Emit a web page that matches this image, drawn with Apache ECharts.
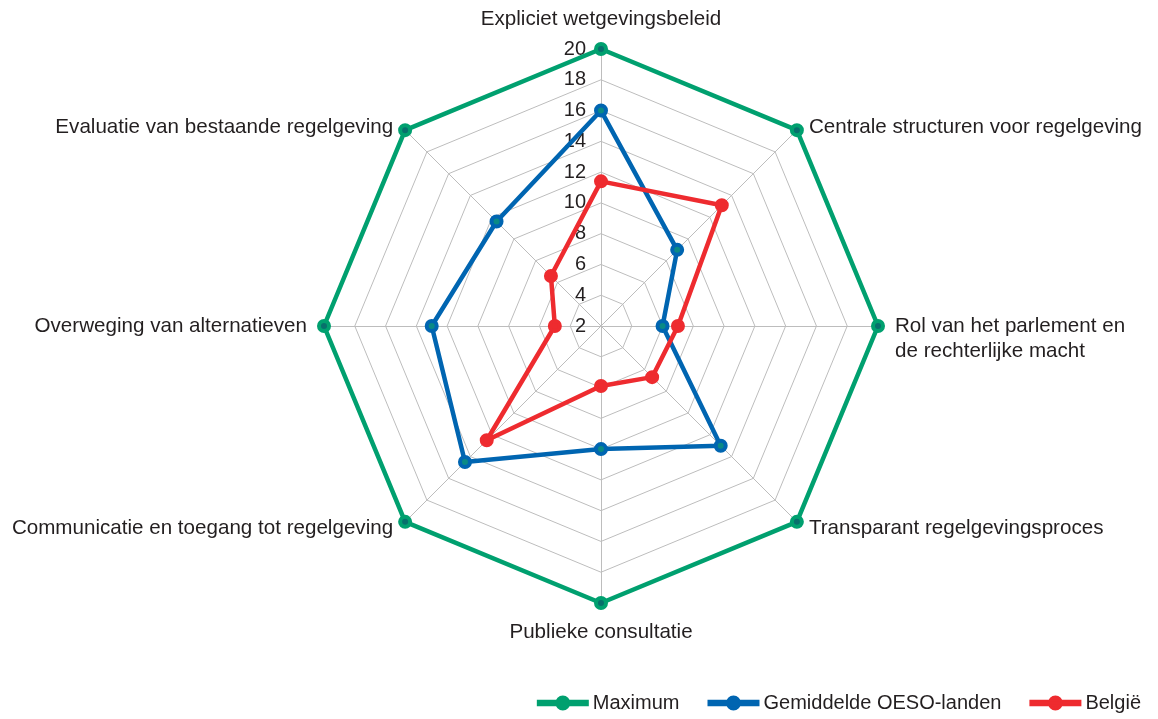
<!DOCTYPE html>
<html>
<head>
<meta charset="utf-8">
<script src="https://cdn.jsdelivr.net/npm/echarts@6/dist/echarts.min.js"></script>
<style>
html,body{margin:0;padding:0;background:#fff;}
#c{width:1158px;height:719px;}
</style>
</head>
<body>
<div id="c"></div>
<script>
// Categories listed in ECharts radar order (start at top, counter-clockwise)
const categories = [
  'Expliciet wetgevingsbeleid',
  'Evaluatie van bestaande regelgeving',
  'Overweging van alternatieven',
  'Communicatie en toegang tot regelgeving',
  'Publieke consultatie',
  'Transparant regelgevingsproces',
  'Rol van het parlement en\nde rechterlijke macht',
  'Centrale structuren voor regelgeving'
];
const seriesNames = ['Maximum', 'Gemiddelde OESO-landen', 'België'];
const maximum = [20, 20, 20, 20, 20, 20, 20, 20];
const oesoAverage = [16, 11.6, 13, 14.5, 10, 13, 6, 9];
const belgie = [11.4, 6.6, 5, 12.5, 5.9, 6.7, 7, 13.1];
const axisMin = 2, axisMax = 20, axisStep = 2;

const colors = ['#00a06f', '#0065b1', '#ee2b2f'];
const markerFill = ['#07706c', '#0a8a86', '#ee2b2f'];
const textColor = '#231f20';
const font = 'Liberation Sans, Arial, sans-serif';
const fs = 20;
const nameFs = 20.6;
const legendIcon = 'path://M0,-2.2 L50,-2.2 L50,2.2 L0,2.2 Z M31.5,0 A6.5,6.5 0 1 1 18.5,0 A6.5,6.5 0 1 1 31.5,0 Z';

const nameBase = { color: textColor, fontSize: nameFs, fontFamily: font, lineHeight: 25 };

const chart = echarts.init(document.getElementById('c'));
const values = [maximum, oesoAverage, belgie];
chart.setOption({
  animation: false,
  textStyle: { fontFamily: font },
  legend: {
    right: 12, bottom: 1,
    itemWidth: 50, itemHeight: 13, itemGap: 28,
    textStyle: { fontSize: fs, color: textColor, fontFamily: font },
    data: seriesNames.map((n, i) => ({ name: n, icon: legendIcon, itemStyle: { color: colors[i] } }))
  },
  radar: {
    center: [601, 326], radius: 277,
    startAngle: 90,
    shape: 'polygon',
    splitNumber: (axisMax - axisMin) / axisStep,
    indicator: categories.map(c => ({ name: c, min: axisMin, max: axisMax })),
    axisName: Object.assign({}, nameBase, {
      formatter: n => {
        const i = categories.indexOf(n);
        if (n.indexOf('\n') >= 0) return '\n' + n;
        if (i === 1 || i === 7) return '{dn|' + n + '}';
        if (i === 3 || i === 5) return '{up|' + n + '}';
        return n;
      },
      rich: {
        dn: Object.assign({}, nameBase, { padding: [18, 0, 0, 0] }),
        up: Object.assign({}, nameBase, { padding: [0, 0, 12, 0] })
      }
    }),
    nameGap: 17,
    splitLine: { lineStyle: { color: '#bdbdbd', width: 1 } },
    splitArea: { show: false },
    axisLine: { lineStyle: { color: '#bdbdbd', width: 1 } },
    axisTick: { show: false },
    axisLabel: { show: false }
  },
  polar: { center: [601, 326], radius: 277 },
  angleAxis: { show: false, startAngle: 90, min: 0, max: 360 },
  radiusAxis: {
    min: axisMin, max: axisMax, interval: axisStep,
    axisLine: { show: false }, axisTick: { show: false }, splitLine: { show: false },
    axisLabel: { color: textColor, fontSize: fs, fontFamily: font, margin: 15 }
  },
  series: [{
    type: 'radar',
    symbol: 'circle', symbolSize: 10,
    lineStyle: { width: 4.5 },
    data: seriesNames.map((n, i) => ({
      name: n, value: values[i],
      itemStyle: { color: markerFill[i], borderColor: colors[i], borderWidth: 4 },
      lineStyle: { color: colors[i], width: 4.5 }
    }))
  }]
});
</script>
</body>
</html>
